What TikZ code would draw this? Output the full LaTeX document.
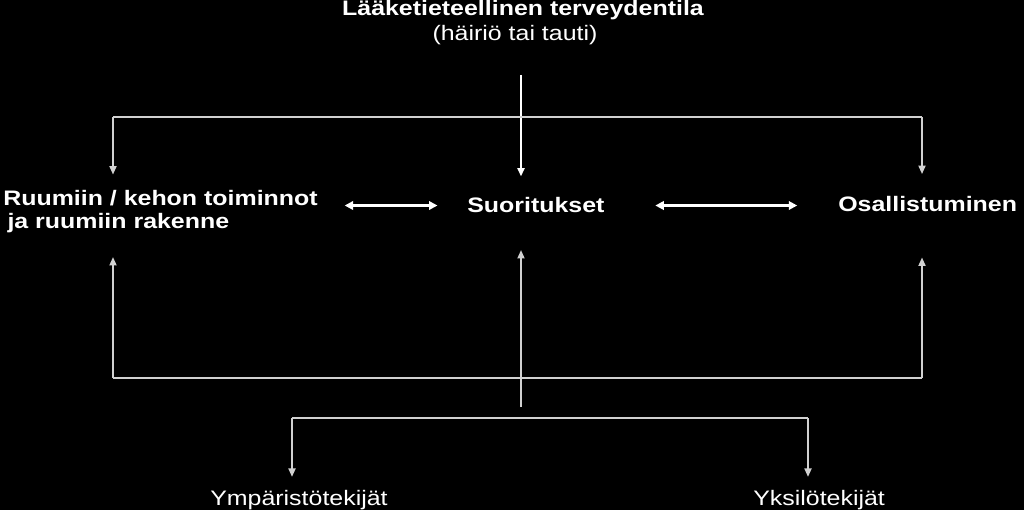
\documentclass[tikz,border=0pt]{standalone}
\usepackage{fontspec}
\setmainfont{Liberation Sans}[FakeStretch=1.19]
\usetikzlibrary{arrows.meta}

\tikzset{
    lbl/.style={text=white, inner sep=0pt, font=\fontsize{14.9}{16.4}\selectfont},
    hd/.style={lbl, font=\fontsize{14.9}{16.4}\selectfont\bfseries},
    wire/.style={draw=white!82!black, line width=1.2pt},
    arr/.style={wire, -{Triangle[width=5pt,length=6pt]}},
    darr/.style={wire, draw=white, line width=1.5pt, {Triangle[width=6pt,length=6pt]}-{Triangle[width=6pt,length=6pt]}}
}

\begin{document}
\begin{tikzpicture}[x=0.025cm, y=-0.025cm]
    \fill[black] (0,0) rectangle (1024,510);

    \node[hd, anchor=base] (state) at (523,16) {Lääketieteellinen terveydentila};
    \node[lbl, anchor=base] (disorder) at (515,41) {(häiriö tai tauti)};
    \node[hd, anchor=north west, align=left] (body) at (3,190) {Ruumiin / kehon toiminnot\\\hspace*{3pt}ja ruumiin rakenne};
    \node[hd, anchor=base west] (act) at (467,213) {Suoritukset};
    \node[hd, anchor=base west] (part) at (838,212) {Osallistuminen};
    \node[lbl, anchor=base west] (env) at (210,505) {Ympäristötekijät};
    \node[lbl, anchor=base west] (pers) at (753,505) {Yksilötekijät};

    \coordinate (ctop) at (521,75);
    \coordinate (tl) at (113,117);
    \coordinate (tr) at (922,117);
    \coordinate (bl) at (113,378);
    \coordinate (br) at (922,378);
    \coordinate (mid) at (521,407);
    \coordinate (fl) at (292,418);
    \coordinate (fr) at (808,418);

    % health condition down to the three components
    \draw[arr, draw=white, line width=1.6pt, shorten >=15pt] (ctop) -- (ctop |- act.north);
    \draw[wire] (tl) -- (tr);
    \draw[arr, shorten >=11pt] (tl) -- (tl |- body.north);
    \draw[arr, shorten >=16pt] (tr) -- (tr |- part.north);

    \draw[darr, shorten <=19pt, shorten >=21pt] (act.west -| body.east) -- (act.west);
    \draw[darr, shorten <=36pt, shorten >=29pt] (act.east) -- (act.east -| part.west);

    % contextual factors back up
    \draw[wire] (bl) -- (br);
    \draw[arr, shorten >=17pt] (bl) -- (bl |- body.south);
    \draw[arr, shorten >=32pt] (br) -- (br |- part.south);
    \draw[arr, shorten >=26pt] (mid) -- (mid |- act.south);

    \draw[wire] (fl) -- (fr);
    \draw[arr, shorten >=9pt] (fl) -- (fl |- env.north);
    \draw[arr, shorten >=9pt] (fr) -- (fr |- pers.north);
\end{tikzpicture}
\end{document}
